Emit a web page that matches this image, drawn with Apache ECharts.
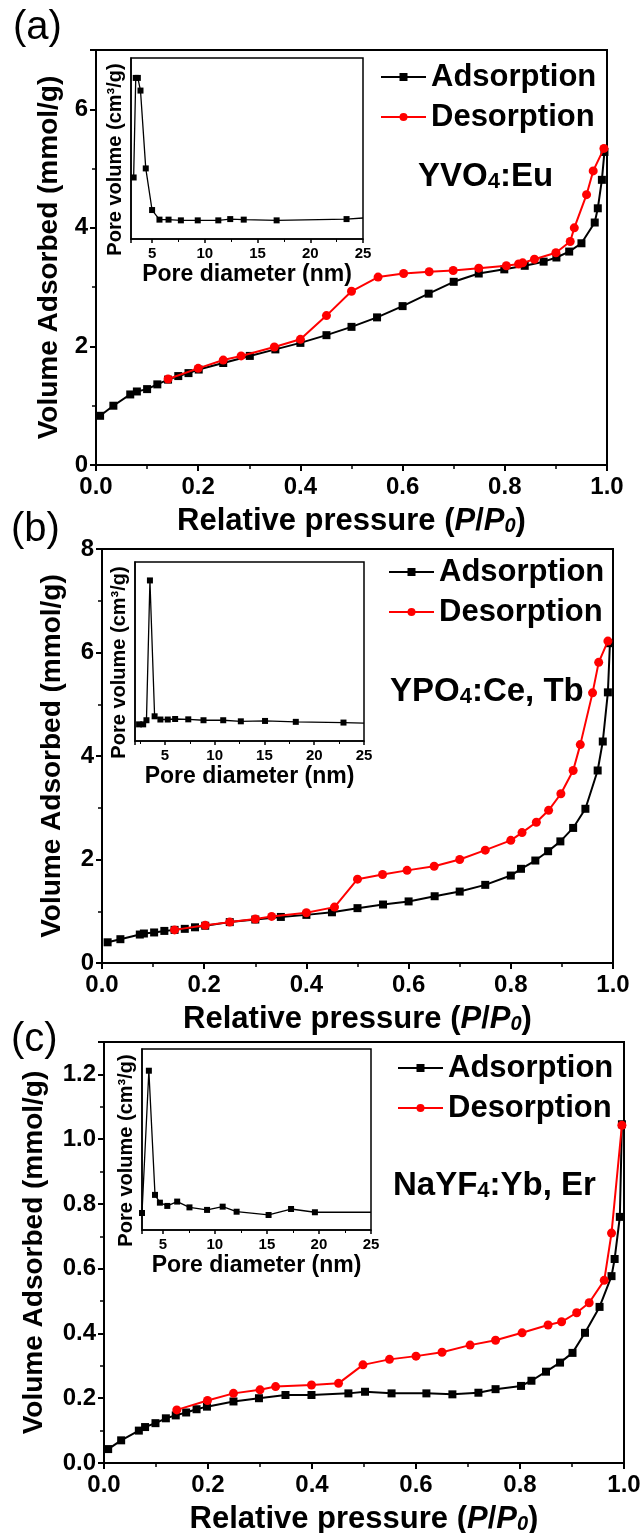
<!DOCTYPE html>
<html>
<head>
<meta charset="utf-8">
<title>N2 isotherms</title>
<script src="https://cdn.jsdelivr.net/npm/echarts@6/dist/echarts.min.js"></script>
<style>
html,body{margin:0;padding:0;background:#fff;}
#main{width:640px;height:1533px;}
</style>
</head>
<body>
<div id="main"></div>
<script>
// (a) YVO4:Eu  -- relative pressure, mmol/g
var adsA = [[0.008,0.83],[0.034,1.00],[0.067,1.19],[0.080,1.24],[0.100,1.28],[0.120,1.36],[0.141,1.44],[0.161,1.50],[0.181,1.55],[0.201,1.61],[0.249,1.72],[0.301,1.84],[0.351,1.95],[0.400,2.06],[0.451,2.19],[0.500,2.33],[0.550,2.49],[0.600,2.68],[0.651,2.89],[0.700,3.09],[0.749,3.23],[0.799,3.30],[0.839,3.36],[0.876,3.43],[0.901,3.50],[0.926,3.60],[0.950,3.74],[0.976,4.09],[0.982,4.33],[0.990,4.81],[0.995,5.28]];
var desA = [[0.141,1.45],[0.200,1.63],[0.249,1.77],[0.284,1.84],[0.349,1.99],[0.400,2.12],[0.451,2.52],[0.500,2.93],[0.552,3.17],[0.602,3.23],[0.652,3.26],[0.699,3.28],[0.749,3.32],[0.803,3.36],[0.827,3.39],[0.835,3.41],[0.858,3.47],[0.900,3.58],[0.928,3.77],[0.936,4.00],[0.960,4.56],[0.973,4.96],[0.994,5.34]];
// (b) YPO4:Ce, Tb
var adsB = [[0.011,0.40],[0.036,0.46],[0.074,0.55],[0.082,0.57],[0.102,0.59],[0.122,0.62],[0.142,0.64],[0.162,0.66],[0.182,0.69],[0.202,0.72],[0.250,0.79],[0.300,0.84],[0.350,0.89],[0.400,0.93],[0.450,0.98],[0.500,1.06],[0.550,1.13],[0.600,1.19],[0.651,1.29],[0.700,1.38],[0.750,1.51],[0.800,1.69],[0.820,1.82],[0.848,1.98],[0.873,2.16],[0.897,2.35],[0.922,2.61],[0.946,2.98],[0.970,3.72],[0.980,4.28],[0.990,5.23],[0.994,6.18]];
var desB = [[0.142,0.64],[0.202,0.73],[0.250,0.79],[0.300,0.85],[0.332,0.90],[0.400,0.97],[0.455,1.08],[0.500,1.62],[0.549,1.71],[0.597,1.79],[0.650,1.87],[0.700,2.00],[0.750,2.18],[0.800,2.37],[0.822,2.52],[0.850,2.72],[0.874,2.95],[0.898,3.27],[0.922,3.72],[0.936,4.22],[0.960,5.22],[0.972,5.81],[0.990,6.22]];
// (c) NaYF4:Yb, Er
var adsC = [[0.008,0.043],[0.033,0.070],[0.067,0.100],[0.079,0.111],[0.099,0.123],[0.119,0.138],[0.138,0.147],[0.158,0.156],[0.178,0.166],[0.198,0.174],[0.249,0.190],[0.298,0.200],[0.349,0.210],[0.399,0.210],[0.470,0.215],[0.502,0.220],[0.553,0.215],[0.620,0.215],[0.670,0.212],[0.720,0.217],[0.753,0.228],[0.802,0.238],[0.822,0.254],[0.850,0.282],[0.877,0.310],[0.901,0.340],[0.925,0.402],[0.953,0.482],[0.976,0.577],[0.982,0.630],[0.992,0.760],[0.996,1.046]];
var desC = [[0.140,0.164],[0.199,0.193],[0.249,0.215],[0.300,0.226],[0.330,0.236],[0.399,0.241],[0.451,0.246],[0.498,0.303],[0.549,0.320],[0.600,0.330],[0.650,0.342],[0.704,0.364],[0.753,0.379],[0.804,0.402],[0.854,0.426],[0.880,0.436],[0.909,0.464],[0.933,0.495],[0.962,0.564],[0.976,0.710],[0.996,1.043]];

// insets: pore diameter (nm) vs pore volume (relative, no scale shown); last point = line end at frame
var poreA = [[3.25,0.34],[3.45,0.89],[3.65,0.89],[3.9,0.82],[4.4,0.39],[5.0,0.16],[5.7,0.107],[6.56,0.107],[7.73,0.103],[9.33,0.103],[11.28,0.103],[12.41,0.11],[13.69,0.107],[16.81,0.103],[23.44,0.11],[25,0.116]];
var poreB = [[2.41,0.093],[2.82,0.093],[3.15,0.116],[3.5,0.897],[3.97,0.138],[4.55,0.12],[5.29,0.12],[6.03,0.123],[7.35,0.121],[8.88,0.116],[10.86,0.116],[12.63,0.11],[15.06,0.112],[18.15,0.107],[22.94,0.103],[25,0.10]];
var poreC = [[3.0,0.094],[3.66,0.88],[4.25,0.194],[4.72,0.151],[5.43,0.133],[6.38,0.157],[7.56,0.125],[9.25,0.111],[10.75,0.129],[12.09,0.101],[15.16,0.083],[17.32,0.116],[19.61,0.098],[25,0.098]];

var poreMin = [3, 2, 3];
var yMax = [7, 8, 1.3];
var yStep = [2, 2, 0.2];
var samples = ['{n|YVO}{s|4}{n|:Eu}', '{n|YPO}{s|4}{n|:Ce, Tb}', '{n|NaYF}{s|4}{n|:Yb, Er}'];
var tags = ['(a)', '(b)', '(c)'];

var FONT = '"Liberation Sans", Arial, Helvetica, sans-serif';
var chart = echarts.init(document.getElementById('main'));

var mainGrid = [
  {left:96, top:50, width:511, height:415},
  {left:102, top:549, width:511, height:414},
  {left:104, top:1042, width:520, height:421}
];
var insetGrid = [
  {left:131, top:58, width:232, height:181},
  {left:135, top:562, width:229, height:179},
  {left:142, top:1049, width:229, height:181}
];
var legendPos = [[380, 61], [388, 556], [397, 1052]];
var samplePos = [[418, 152], [390, 667], [393, 1161]];
var tagPos = [[13, 8], [11, 510], [11, 1020]];
var yNameGap = [30, 36, 56];

var subRich = {
  n: {fontSize:33, fontWeight:'bold', fontFamily:FONT, color:'#000', lineHeight:33, verticalAlign:'top'},
  s: {fontSize:22, fontWeight:'bold', fontFamily:FONT, color:'#000', lineHeight:22, padding:[19,0,0,0], verticalAlign:'bottom'}
};
var xNameRich = {
  n: {fontSize:31, fontWeight:'bold', fontFamily:FONT, color:'#000', lineHeight:31, verticalAlign:'top'},
  i: {fontSize:31, fontWeight:'bold', fontStyle:'italic', fontFamily:FONT, color:'#000', lineHeight:31, verticalAlign:'top'},
  s: {fontSize:20, fontWeight:'bold', fontStyle:'italic', fontFamily:FONT, color:'#000', lineHeight:20, padding:[17,0,0,0], verticalAlign:'bottom'}
};

var grids = [], xAxes = [], yAxes = [], series = [], legends = [], graphics = [];
var adsList = [adsA, adsB, adsC], desList = [desA, desB, desC], poreList = [poreA, poreB, poreC];

for (var i = 0; i < 3; i++) {
  var g = mainGrid[i];
  grids.push({left:g.left, top:g.top, width:g.width, height:g.height, show:true,
    borderColor:'#000', borderWidth:2, backgroundColor:'transparent', outerBoundsMode:'none'});
  xAxes.push({
    type:'value', gridIndex:i, min:0, max:1, interval:0.2,
    name:'{n|Relative pressure (}{i|P}{n|/}{i|P}{s|0}{n|)}',
    nameLocation:'middle', nameGap:37,
    nameTextStyle:{rich:xNameRich},
    axisLine:{lineStyle:{color:'#000', width:2}},
    axisTick:{inside:false, length:6, lineStyle:{color:'#000', width:2}},
    minorTick:{show:true, splitNumber:2, length:4, lineStyle:{color:'#000', width:1.5}},
    splitLine:{show:false},
    axisLabel:{color:'#000', fontSize:24, fontWeight:'bold', fontFamily:FONT, margin:10,
      formatter:function (v) { return v.toFixed(1); }}
  });
  (function (step) {
    yAxes.push({
      type:'value', gridIndex:i, min:0, max:yMax[i], interval:step,
      name:'Volume Adsorbed (mmol/g)', nameLocation:'middle', nameGap:yNameGap[i],
      nameTextStyle:{color:'#000', fontSize:28, fontWeight:'bold', fontFamily:FONT},
      axisLine:{lineStyle:{color:'#000', width:2}},
      axisTick:{inside:false, length:6, lineStyle:{color:'#000', width:2}},
      minorTick:{show:true, splitNumber:2, length:4, lineStyle:{color:'#000', width:1.5}},
      splitLine:{show:false},
      axisLabel:{color:'#000', fontSize:24, fontWeight:'bold', fontFamily:FONT, margin:8, showMaxLabel:yMax[i] % step === 0,
        formatter:function (v) { return step < 1 ? v.toFixed(1) : String(v); }}
    });
  })(yStep[i]);
  series.push({name:'Adsorption', type:'line', xAxisIndex:i, yAxisIndex:i, data:adsList[i],
    symbol:'rect', symbolSize:8, lineStyle:{color:'#000', width:2}, itemStyle:{color:'#000'}, z:3});
  series.push({name:'Desorption', type:'line', xAxisIndex:i, yAxisIndex:i, data:desList[i],
    symbol:'circle', symbolSize:9, lineStyle:{color:'#ff0000', width:2}, itemStyle:{color:'#ff0000'}, z:4});
  legends.push({
    data:['Adsorption', 'Desorption'], orient:'vertical', left:legendPos[i][0], top:legendPos[i][1],
    itemWidth:45, itemHeight:10, itemGap:8, selectedMode:false, padding:0,
    textStyle:{color:'#000', fontSize:31, fontWeight:'bold', fontFamily:FONT, lineHeight:32}
  });
  graphics.push({type:'text', left:samplePos[i][0], top:samplePos[i][1], z:10,
    style:{text:samples[i], rich:subRich, fill:'#000'}});
  graphics.push({type:'text', left:tagPos[i][0], top:tagPos[i][1], z:10,
    style:{text:tags[i], fill:'#000', font:'40px ' + FONT}});
}

for (var k = 0; k < 3; k++) {
  var h = insetGrid[k];
  var gi = 3 + k;
  grids.push({left:h.left, top:h.top, width:h.width, height:h.height, show:true,
    borderColor:'#000', borderWidth:1.5, backgroundColor:'#fff', outerBoundsMode:'none'});
  xAxes.push({
    type:'value', gridIndex:gi, min:poreMin[k], max:25, splitNumber:5,
    name:'Pore diameter (nm)', nameLocation:'middle', nameGap:24,
    nameTextStyle:{color:'#000', fontSize:23, fontWeight:'bold', fontFamily:FONT},
    axisLine:{lineStyle:{color:'#000', width:1.5}},
    axisTick:{inside:false, length:4, lineStyle:{color:'#000', width:1.5}},
    minorTick:{show:true, splitNumber:2, length:3, lineStyle:{color:'#000', width:1}},
    splitLine:{show:false},
    axisLabel:{color:'#000', fontSize:15, fontWeight:'bold', fontFamily:FONT, margin:7, showMinLabel:false}
  });
  yAxes.push({
    type:'value', gridIndex:gi, min:0, max:1,
    name:'Pore volume (cm\u00b3/g)', nameLocation:'middle', nameGap:6,
    nameTextStyle:{color:'#000', fontSize:20, fontWeight:'bold', fontFamily:FONT, padding:[0,22,0,0]},
    axisLine:{lineStyle:{color:'#000', width:1.5}},
    axisTick:{show:false}, axisLabel:{show:false}, splitLine:{show:false}
  });
  var pts = poreList[k].map(function (p, j, arr) {
    return j === arr.length - 1 ? {value:p, symbol:'none'} : p;
  });
  series.push({name:'Pore', type:'line', xAxisIndex:gi, yAxisIndex:gi, data:pts,
    symbol:'rect', symbolSize:6, lineStyle:{color:'#000', width:1.3}, itemStyle:{color:'#000'}, z:5});
}

chart.setOption({
  animation:false,
  backgroundColor:'#fff',
  textStyle:{fontFamily:FONT},
  grid:grids, xAxis:xAxes, yAxis:yAxes, legend:legends, series:series,
  graphic:graphics
});
</script>
</body>
</html>
